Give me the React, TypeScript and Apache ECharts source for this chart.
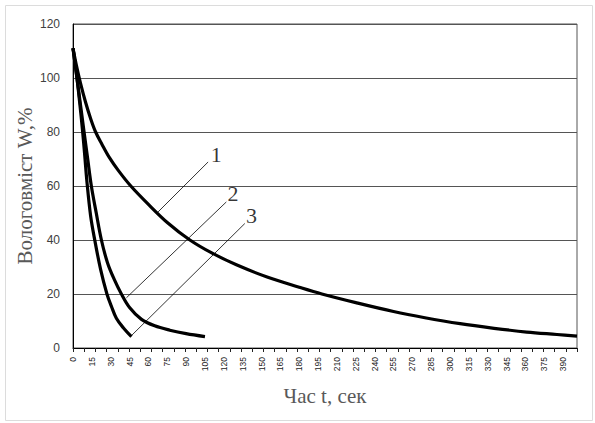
import React, { useEffect, useRef } from "react";
import * as echarts from "echarts";

// Curve 1 (slowest drying)
const curve1T = [0, 3, 6, 10, 14, 18, 23, 29, 36, 46, 60, 75, 93, 110, 130, 155, 180, 198, 225, 255, 280, 308, 335, 361, 385, 401];
const curve1W = [111, 104, 98, 91, 85, 80, 75.5, 70.5, 65.8, 60, 53.2, 46.5, 40, 35.3, 30.8, 26.2, 22.5, 20, 16.8, 13.5, 11.2, 9, 7.3, 5.9, 5.0, 4.4];
// Curve 2
const curve2T = [0, 4, 8.8, 11.7, 14.6, 18.5, 22.6, 27.5, 33, 38.5, 45, 54.5, 65, 77, 90, 105];
const curve2W = [111, 97, 80, 70, 60, 50, 40, 31.5, 25.2, 20, 15, 10.6, 8.2, 6.6, 5.3, 4.2];
// Curve 3 (fastest)
const curve3T = [0, 3, 5.3, 7.5, 9.3, 11, 14, 17.3, 22, 27, 30.5, 34.5, 40, 46.5];
const curve3W = [111, 100.5, 91, 81, 71.5, 62, 49, 40, 29, 20, 15.5, 11, 7.5, 4.2];

// Leader lines for curve numbers (data coordinates)
const curveNames = ["1", "2", "3"];
const leaderFrom = [[107.5, 68.9], [122, 54.1], [136.7, 46.1]];
const leaderTo = [[67.7, 50.4], [42.5, 18.6], [46.5, 4.6]];
const namePos = [[114, 71.5], [127.4, 57.2], [142, 49.1]];

const xTitle = "Час t, сек";
const yTitle = "Вологовміст W,%";
const xLabelStep = 15;
const xMax = 401;
const yMax = 120;
const yStep = 20;
const minorTickCount = 45;

const zip = (t: number[], w: number[]) => t.map((v, i) => [v, w[i]]);

export default function App() {
  const ref = useRef<HTMLDivElement>(null);
  useEffect(() => {
    document.body.style.margin = "0";
    const chart = echarts.init(ref.current!, null, { renderer: "svg" });
    const gridBox = { left: 73, right: 18, top: 24, bottom: 75 };
    const curveStyle = { color: "#000", width: 3.2 };
    const serif = "Liberation Serif, Times New Roman";
    const curveSeries = [zip(curve1T, curve1W), zip(curve2T, curve2W), zip(curve3T, curve3W)].map((d, i) => ({
      type: "line",
      name: "Крива " + curveNames[i],
      data: d,
      xAxisIndex: 0,
      yAxisIndex: 0,
      symbol: "none",
      smooth: 0.35,
      lineStyle: curveStyle,
      z: 5,
    }));
    const leaderSeries = leaderFrom.map((p, i) => ({
      type: "line",
      data: [p, leaderTo[i]],
      xAxisIndex: 0,
      yAxisIndex: 0,
      symbol: "none",
      lineStyle: { color: "#000", width: 0.8 },
      z: 4,
    }));
    chart.setOption({
      animation: false,
      backgroundColor: "#fff",
      graphic: [
        {
          type: "rect",
          silent: true,
          z: -1,
          shape: { x: 5.5, y: 5.5, width: 587, height: 415 },
          style: { fill: "none", stroke: "#dcdcdc", lineWidth: 1 },
        },
        {
          type: "text",
          silent: true,
          x: 25,
          y: 186,
          rotation: Math.PI / 2,
          style: {
            text: yTitle,
            fontFamily: serif,
            fontSize: 21,
            fill: "#595959",
            align: "center",
            verticalAlign: "middle",
          },
        },
      ],
      grid: [
        { ...gridBox, show: true, borderColor: "#555", borderWidth: 1, backgroundColor: "transparent" },
        { ...gridBox },
      ],
      xAxis: [
        {
          type: "value",
          gridIndex: 0,
          min: 0,
          max: xMax,
          interval: xLabelStep,
          axisLine: { show: true, lineStyle: { color: "#000", width: 1 } },
          axisTick: { show: false },
          splitLine: { show: false },
          axisLabel: {
            rotate: 90,
            fontSize: 8.5,
            fontFamily: "Arial, Liberation Sans",
            color: "#222",
            margin: 9,
            showMaxLabel: false,
          },
          name: xTitle,
          nameLocation: "middle",
          nameGap: 37,
          nameTextStyle: { fontFamily: serif, fontSize: 21, color: "#595959" },
        },
        {
          type: "value",
          gridIndex: 1,
          min: 0,
          max: minorTickCount,
          interval: 1,
          position: "bottom",
          axisLine: { show: false },
          axisLabel: { show: false },
          splitLine: { show: false },
          axisTick: { show: true, length: 4, lineStyle: { color: "#222" } },
        },
      ],
      yAxis: [
        {
          type: "value",
          gridIndex: 0,
          min: 0,
          max: yMax,
          interval: yStep,
          axisLine: { show: true, lineStyle: { color: "#000" } },
          axisTick: { show: false },
          splitLine: { show: true, lineStyle: { color: "#555", width: 1 } },
          axisLabel: { fontSize: 12, fontFamily: "Arial, Liberation Sans", color: "#404040", margin: 13 },
        },
        { type: "value", gridIndex: 1, min: 0, max: yMax, show: false },
      ],
      series: [
        ...curveSeries,
        ...leaderSeries,
        {
          type: "scatter",
          xAxisIndex: 0,
          yAxisIndex: 0,
          data: namePos.map((p, i) => ({ value: p, name: curveNames[i] })),
          symbolSize: 1,
          itemStyle: { color: "rgba(0,0,0,0)" },
          label: {
            show: true,
            position: "inside",
            formatter: (p: any) => p.name,
            fontFamily: serif,
            fontSize: 22,
            color: "#000",
          },
          z: 6,
        },
      ],
    });
    return () => chart.dispose();
  }, []);
  return <div ref={ref} style={{ width: 595, height: 423 }} />;
}
